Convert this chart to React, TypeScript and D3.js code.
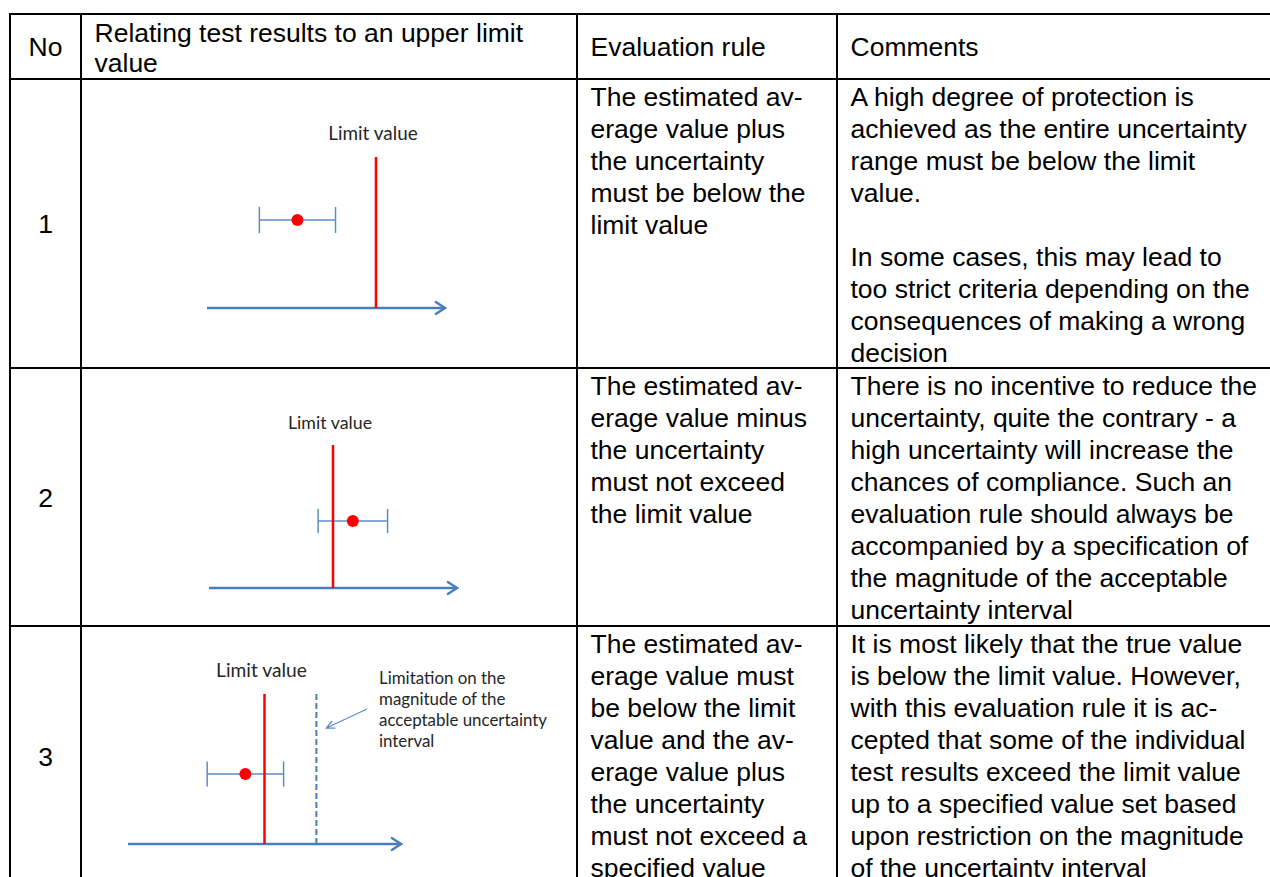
import React, { useEffect, useRef } from "react";
import * as d3 from "d3";

// table text
const headerCells = [["No"], ["Relating test results to an upper limit", "value"], ["Evaluation rule"], ["Comments"]];
const caseNumbers = ["1", "2", "3"];
const ruleLines = [
  ["The estimated av-", "erage value plus", "the uncertainty", "must be below the", "limit value"],
  ["The estimated av-", "erage value minus", "the uncertainty", "must not exceed", "the limit value"],
  ["The estimated av-", "erage value must", "be below the limit", "value and the av-", "erage value plus", "the uncertainty", "must not exceed a", "specified value"],
];
const commentLines = [
  ["A high degree of protection is", "achieved as the entire uncertainty", "range must be below the limit", "value.", "", "In some cases, this may lead to", "too strict criteria depending on the", "consequences of making a wrong", "decision"],
  ["There is no incentive to reduce the", "uncertainty, quite the contrary - a", "high uncertainty will increase the", "chances of compliance. Such an", "evaluation rule should always be", "accompanied by a specification of", "the magnitude of the acceptable", "uncertainty interval"],
  ["It is most likely that the true value", "is below the limit value. However,", "with this evaluation rule it is ac-", "cepted that some of the individual", "test results exceed the limit value", "up to a specified value set based", "upon restriction on the magnitude", "of the uncertainty interval"],
];

// diagram values, in % of the drawn axis
const limitValues = [71, 50, 50];
const estimates = [38, 58, 43];
const uncertainties = [16, 14, 14];
const specifiedValues = [null, null, 69];
const limitLabel = "Limit value";
const noteLines = ["Limitation on the", "magnitude of the", "acceptable uncertainty", "interval"];

const colX = [10, 81, 577, 837, 1300];
const rowY = [14, 79, 368, 626, 886];
const panels = [
  { x0: 207, x1: 445, axisY: 308, top: 157, barY: 220, cap: 13, labelY: 140, labelSize: 18.9 },
  { x0: 209, x1: 457, axisY: 588, top: 445, barY: 521, cap: 12, labelY: 429, labelSize: 17.8 },
  { x0: 128, x1: 401, axisY: 844, top: 694, barY: 774, cap: 12.5, labelY: 677, labelSize: 19.2 },
];

const TEXT_FONT = "'Liberation Sans', Arial, sans-serif";
const DIAG_FONT = "Lato, 'Open Sans', sans-serif";
const BLUE = "#4a7ebb";
const BAR_BLUE = "#5f8bc8";
const RED = "#ff0000";

export default function App() {
  const ref = useRef<SVGSVGElement>(null);

  useEffect(() => {
    const svg = d3.select(ref.current);
    svg.selectAll("*").remove();

    const width = 1270;
    const lineH = 32;
    const pad = 13.5;

    // grid
    const grid = svg.append("g").attr("stroke", "#000").attr("stroke-width", 2);
    rowY.slice(0, 4).forEach((y) => {
      grid.append("line").attr("x1", colX[0] - 1).attr("x2", width + 5).attr("y1", y).attr("y2", y);
    });
    colX.slice(0, 4).forEach((x) => {
      grid.append("line").attr("x1", x).attr("x2", x).attr("y1", rowY[0] - 1).attr("y2", rowY[4]);
    });

    const text = svg.append("g").attr("font-family", TEXT_FONT).attr("font-size", 26.5).attr("fill", "#000");

    // header
    const hMid = (rowY[0] + rowY[1]) / 2 + 9.5;
    text.append("text").attr("x", (colX[0] + colX[1]) / 2).attr("y", hMid).attr("text-anchor", "middle").text(headerCells[0][0]);
    headerCells[1].forEach((s, i) => {
      text.append("text").attr("x", colX[1] + pad).attr("y", rowY[0] + 27.7 + i * 30).text(s);
    });
    text.append("text").attr("x", colX[2] + pad).attr("y", hMid).text(headerCells[2][0]);
    text.append("text").attr("x", colX[3] + pad).attr("y", hMid).text(headerCells[3][0]);

    // body rows
    caseNumbers.forEach((n, r) => {
      const top = rowY[r + 1];
      const bottom = rowY[r + 2];
      text.append("text").attr("x", (colX[0] + colX[1]) / 2).attr("y", (top + bottom) / 2 + 9.5)
        .attr("text-anchor", "middle").text(n);
      ruleLines[r].forEach((s, i) => {
        text.append("text").attr("x", colX[2] + pad).attr("y", top + 26.5 + i * lineH).text(s);
      });
      commentLines[r].forEach((s, i) => {
        if (s) text.append("text").attr("x", colX[3] + pad).attr("y", top + 26.5 + i * lineH).text(s);
      });
    });

    // diagrams
    panels.forEach((p, r) => {
      const x = d3.scaleLinear().domain([0, 100]).range([p.x0, p.x1]);
      const g = svg.append("g");

      // axis with open arrow head
      g.append("line").attr("x1", x(0)).attr("x2", x(100)).attr("y1", p.axisY).attr("y2", p.axisY)
        .attr("stroke", BLUE).attr("stroke-width", 2.5);
      g.append("path")
        .attr("d", d3.line()([[x(100) - 10, p.axisY - 6.5], [x(100), p.axisY], [x(100) - 10, p.axisY + 6.5]]))
        .attr("fill", "none").attr("stroke", BLUE).attr("stroke-width", 2.5).attr("stroke-linejoin", "miter");

      // specified value (dashed)
      const spec = specifiedValues[r];
      if (spec != null) {
        g.append("line").attr("x1", x(spec)).attr("x2", x(spec)).attr("y1", p.top).attr("y2", p.axisY)
          .attr("stroke", BLUE).attr("stroke-width", 2).attr("stroke-dasharray", "6,3");
      }

      // error bar
      const lo = x(estimates[r] - uncertainties[r]);
      const hi = x(estimates[r] + uncertainties[r]);
      const bar = g.append("g").attr("stroke", BAR_BLUE).attr("stroke-width", 1.5);
      bar.append("line").attr("x1", lo).attr("x2", hi).attr("y1", p.barY).attr("y2", p.barY);
      [lo, hi].forEach((cx) => {
        bar.append("line").attr("x1", cx).attr("x2", cx).attr("y1", p.barY - p.cap).attr("y2", p.barY + p.cap);
      });

      // limit value line
      g.append("line").attr("x1", x(limitValues[r])).attr("x2", x(limitValues[r])).attr("y1", p.top).attr("y2", p.axisY)
        .attr("stroke", RED).attr("stroke-width", 2.5);

      // estimate
      g.append("circle").attr("cx", x(estimates[r])).attr("cy", p.barY).attr("r", 6).attr("fill", RED);

      g.append("text").attr("x", x(limitValues[r]) - 3).attr("y", p.labelY).attr("text-anchor", "middle")
        .attr("font-family", DIAG_FONT).attr("font-size", p.labelSize).attr("fill", "#262626").text(limitLabel);

      if (spec != null) {
        const note = g.append("g").attr("font-family", DIAG_FONT).attr("font-size", 16.9).attr("fill", "#262626");
        noteLines.forEach((s, i) => {
          note.append("text").attr("x", 379).attr("y", 684 + i * 21).text(s);
        });
        // pointer arrow to the dashed line
        const from: [number, number] = [367, 709];
        const to: [number, number] = [x(spec) + 10, 728];
        const ang = Math.atan2(to[1] - from[1], to[0] - from[0]);
        const head = 9;
        const a1: [number, number] = [to[0] - head * Math.cos(ang - 0.45), to[1] - head * Math.sin(ang - 0.45)];
        const a2: [number, number] = [to[0] - head * Math.cos(ang + 0.45), to[1] - head * Math.sin(ang + 0.45)];
        g.append("path").attr("d", d3.line()([from, to]) + d3.line()([a1, to, a2]))
          .attr("fill", "none").attr("stroke", BAR_BLUE).attr("stroke-width", 1.3);
      }
    });
  }, []);

  return (
    <svg
      ref={ref}
      width={1270}
      height={877}
      style={{ position: "absolute", left: 0, top: 0, display: "block", background: "#fff" }}
    />
  );
}
